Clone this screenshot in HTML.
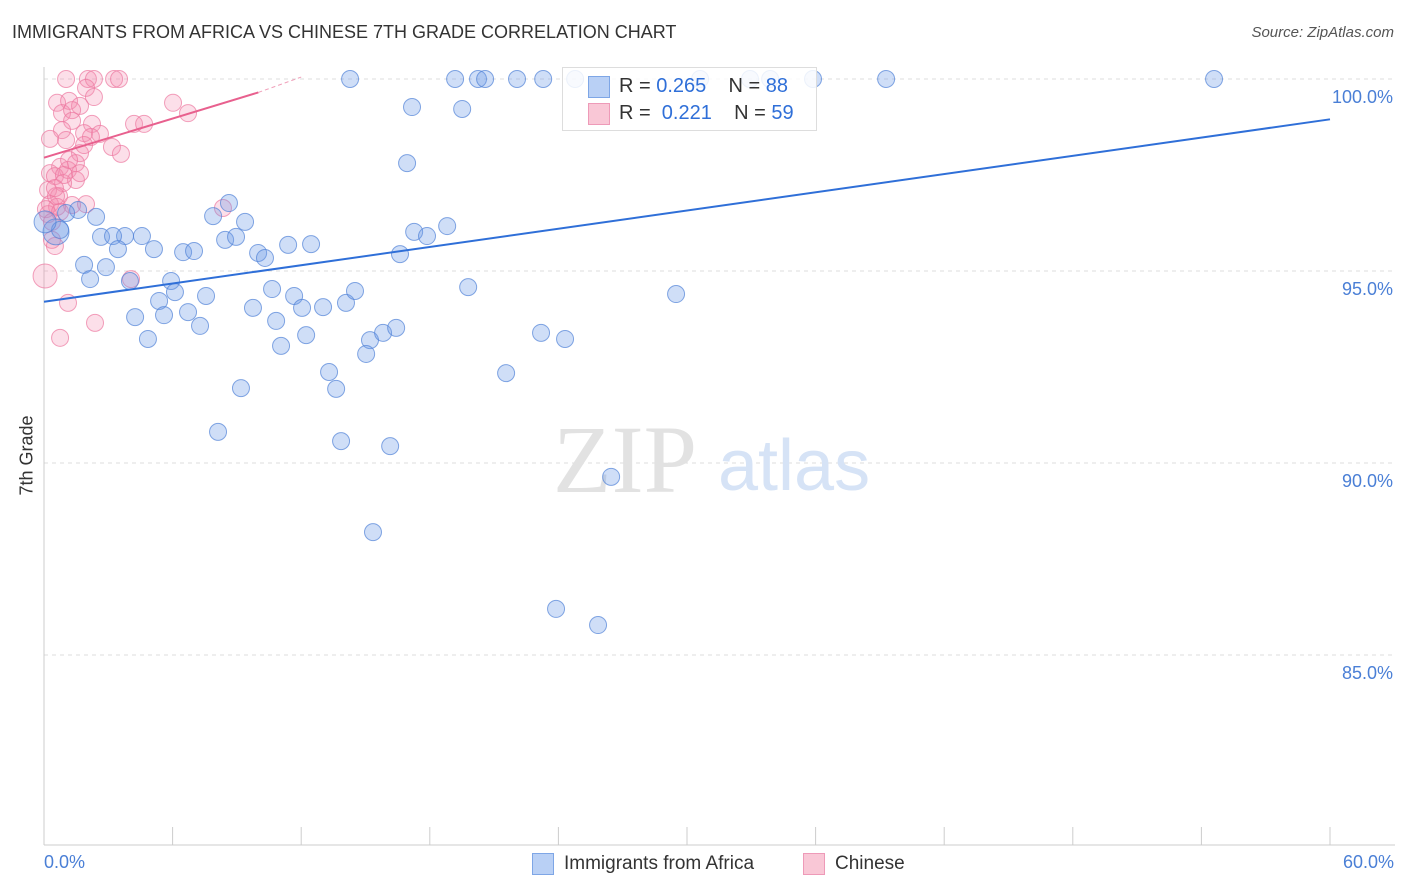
<!DOCTYPE html>
<html><head><meta charset="utf-8"><style>
body{margin:0;background:#fff;font-family:"Liberation Sans",sans-serif;}
#wrap{position:relative;width:1406px;height:892px;overflow:hidden;}
.t{position:absolute;white-space:nowrap;}
</style></head><body>
<div id="wrap">
<div class="t" style="left:12px;top:22px;font-size:18px;color:#333;">IMMIGRANTS FROM AFRICA VS CHINESE 7TH GRADE CORRELATION CHART</div>
<div class="t" style="right:12px;top:24px;font-size:15px;color:#555;font-style:italic;">Source: ZipAtlas.com</div>
<svg id="svg" width="1406" height="892" style="position:absolute;left:0;top:0"></svg>
</div>
<script>
const xBlue=[14.28,19.18,20.25,20.58,22.07,23.29,24.78,30.61,32.94,33.88,35.88,39.29,54.59,17.17,19.51,16.94,8.63,7.89,9.38,2.43,1.59,1.03,0.56,0.75,2.66,3.78,4.57,3.22,3.45,5.13,6.49,7.0,8.45,8.96,9.99,10.31,11.39,12.46,17.27,17.87,18.81,16.61,1.87,2.89,2.15,4.01,5.93,6.11,7.56,5.37,10.64,11.67,12.04,9.75,13.02,14.09,14.51,19.79,29.49,4.25,5.6,6.72,7.28,10.83,12.23,4.85,11.06,15.21,15.82,16.43,15.03,23.19,24.31,13.3,13.63,9.19,21.56,8.12,13.86,16.15,26.46,15.35,23.89,25.85,0.05];
const yBlue=[100,100,100,100,100,100,100,100,100,100,100,100,100,99.27,99.22,97.81,96.77,96.43,96.28,96.41,96.59,96.51,96.02,96.07,95.89,95.91,95.91,95.91,95.57,95.57,95.49,95.52,95.81,95.89,95.47,95.34,95.68,95.70,96.02,95.91,96.17,95.44,95.16,95.10,94.79,94.74,94.74,94.45,94.35,94.22,94.53,94.35,94.04,94.04,94.06,94.17,94.48,94.58,94.40,93.80,93.85,93.93,93.57,93.70,93.33,93.23,93.05,93.20,93.39,93.52,92.84,93.39,93.23,92.37,91.93,91.95,92.34,90.81,90.57,90.44,89.64,88.20,86.20,85.78,96.28];
const xPink=[1.03,2.05,2.33,3.27,3.5,1.96,2.33,0.61,1.17,1.68,0.84,1.31,1.31,2.24,1.87,2.61,0.84,0.28,4.2,4.67,6.02,6.72,3.17,3.59,1.68,1.49,0.75,1.12,0.28,0.51,1.49,0.89,0.19,0.7,0.28,0.61,1.31,1.96,8.35,0.19,0.37,0.51,0.05,4.06,1.12,2.38,0.75,1.68,0.93,1.03,0.56,0.09,0.37,2.19,1.87,1.17,0.51,0.75];
const yPink=[100,100,100,100,100,99.77,99.53,99.38,99.43,99.30,99.11,99.19,98.91,98.83,98.59,98.57,98.67,98.44,98.83,98.83,99.38,99.11,98.23,98.05,98.07,97.81,97.71,97.63,97.55,97.47,97.37,97.29,97.11,96.95,96.74,96.67,96.72,96.74,96.64,96.48,95.81,95.65,94.87,94.79,94.17,93.65,93.26,97.55,97.50,98.41,96.95,96.61,96.28,98.49,98.28,97.89,97.16,96.54];
const blueTrend=[[0,94.2],[60,98.95]];
const pinkTrend=[[0,97.95],[10,99.65],[12,100.05]];
const yTicks=[100,95,90,85];
const yTickLabels=["100.0%","95.0%","90.0%","85.0%"];
const xTicks=[0,6,12,18,24,30,36,42,48,54,60];

const X0=44,X1=1330,Y100=79,PPY=38.4;
const sx=v=>X0+(v/60)*(X1-X0);
const sy=v=>Y100+(100-v)*PPY;
const svg=document.getElementById('svg');
const NS='http://www.w3.org/2000/svg';
function mk(tag,attrs,parent){const e=document.createElementNS(NS,tag);for(const k in attrs)e.setAttribute(k,attrs[k]);(parent||svg).appendChild(e);return e;}

yTicks.forEach((v,i)=>{
 const g=mk('line',{x1:44,x2:1395,y1:sy(v),y2:sy(v),stroke:'#ddd','stroke-dasharray':'4,4'});
 
 
 const t=mk('text',{x:1393,y:sy(v)+24,'text-anchor':'end','font-size':18,fill:'#4a7fd6','font-family':'Liberation Sans'});
 t.textContent=yTickLabels[i];
 
 
});
const ax=mk('line',{x1:44,x2:44,y1:67,y2:845,stroke:'#ccc'});


const bx=mk('line',{x1:44,x2:1395,y1:845,y2:845,stroke:'#ccc'});


xTicks.forEach(v=>{
 const tk=mk('line',{x1:sx(v),x2:sx(v),y1:827,y2:845,stroke:'#ccc'});
 
 
});
const wm=mk('text',{x:553,y:492,'font-size':96,fill:'#e2e2e2','font-family':'Liberation Serif'});
wm.textContent='ZIP';


const wm2=mk('text',{x:718,y:490,'font-size':72,fill:'#d6e3f6','font-family':'Liberation Sans'});
wm2.textContent='atlas';



xPink.forEach((x,i)=>{
 const c=mk('circle',{cx:sx(x),cy:sy(yPink[i]),r:(i==42?12:8.5),fill:'rgba(244,140,176,0.28)',stroke:'rgba(236,120,160,0.7)','stroke-width':1});
 
 
});
xBlue.forEach((x,i)=>{
 const c=mk('circle',{cx:sx(x),cy:sy(yBlue[i]),r:(i==22?13:(i==84?11:8.5)),fill:'rgba(110,155,230,0.33)',stroke:'rgba(80,130,215,0.7)','stroke-width':1});
 
 
});
const bt=mk('line',{x1:sx(blueTrend[0][0]),y1:sy(blueTrend[0][1]),x2:sx(blueTrend[1][0]),y2:sy(blueTrend[1][1]),stroke:'#2f6fd8','stroke-width':2});


const pt=mk('line',{x1:sx(pinkTrend[0][0]),y1:sy(pinkTrend[0][1]),x2:sx(pinkTrend[1][0]),y2:sy(pinkTrend[1][1]),stroke:'#e8608e','stroke-width':2});


const pd=mk('line',{x1:sx(pinkTrend[1][0]),y1:sy(pinkTrend[1][1]),x2:sx(pinkTrend[2][0]),y2:sy(pinkTrend[2][1]),stroke:'#f0a0ba','stroke-width':1,'stroke-dasharray':'4,3'});


</script>
<div class="t" style="left:-13px;top:445px;font-size:18px;color:#333;transform:rotate(-90deg);">7th Grade</div>
<div class="t" style="left:44px;top:852px;font-size:18px;color:#4a7fd6;">0.0%</div>
<div class="t" style="right:12px;top:852px;font-size:18px;color:#4a7fd6;">60.0%</div>
<div style="position:absolute;left:562px;top:67px;width:253px;height:62px;border:1px solid #ddd;background:rgba(255,255,255,0.85);">
 <div style="position:absolute;left:25px;top:8px;width:20px;height:20px;background:#b9d0f5;border:1px solid #7ea6e6;"></div>
 <div class="t" style="left:56px;top:7px;font-size:20px;color:#333;">R = <span style="color:#2f6fd8">0.265</span>&nbsp;&nbsp;&nbsp; N = <span style="color:#2f6fd8">88</span></div>
 <div style="position:absolute;left:25px;top:35px;width:20px;height:20px;background:#f9c7d6;border:1px solid #ee9ab8;"></div>
 <div class="t" style="left:56px;top:34px;font-size:20px;color:#333;">R = &nbsp;<span style="color:#2f6fd8">0.221</span>&nbsp;&nbsp;&nbsp; N = <span style="color:#2f6fd8">59</span></div>
</div>
<div style="position:absolute;left:532px;top:853px;">
 <div style="position:absolute;left:0;top:0;width:20px;height:20px;background:#b9d0f5;border:1px solid #7ea6e6;"></div>
 <div class="t" style="left:32px;top:0;font-size:19px;color:#333;">Immigrants from Africa</div>
</div>
<div style="position:absolute;left:803px;top:853px;">
 <div style="position:absolute;left:0;top:0;width:20px;height:20px;background:#f9c7d6;border:1px solid #ee9ab8;"></div>
 <div class="t" style="left:32px;top:0;font-size:19px;color:#333;">Chinese</div>
</div>
</body></html>
